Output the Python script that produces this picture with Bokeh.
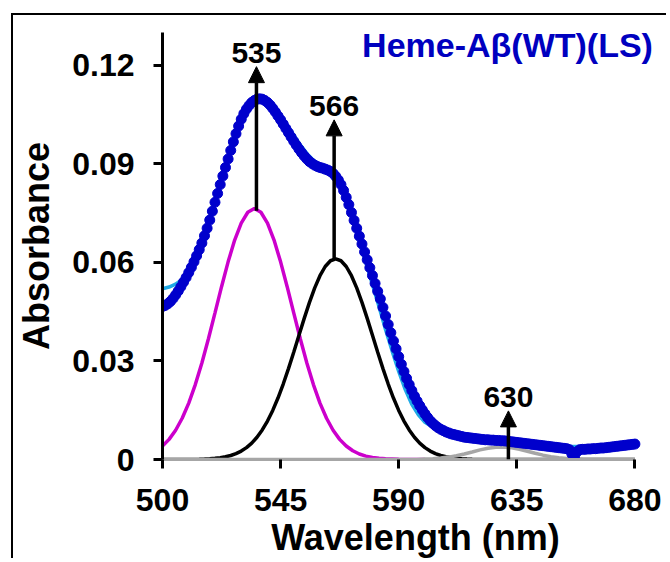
from bokeh.plotting import figure
from bokeh.models import (Range1d, FixedTicker, NumeralTickFormatter, Arrow,
                          NormalHead, Label, ColumnDataSource)
from bokeh.embed import file_html
from bokeh.resources import INLINE
from bokeh.core.properties import value

# ---------------- data ----------------
x_ticks = [500, 545, 590, 635, 680]
y_ticks = [0, 0.03, 0.06, 0.09, 0.12]

# experimental spectrum (dark blue dots), 1 nm steps 500..680
exp_wl = list(range(500, 681))
exp_abs = [
    0.0466, 0.0469, 0.0474, 0.0481, 0.0490, 0.0501, 0.0513, 0.0526, 0.0540, 0.0554,
    0.0569, 0.0585, 0.0602, 0.0620, 0.0639, 0.0659, 0.0681, 0.0704, 0.0729, 0.0756,
    0.0783, 0.0810, 0.0837, 0.0863, 0.0889, 0.0915, 0.0941, 0.0967, 0.0992, 0.1015,
    0.1036, 0.1053, 0.1067, 0.1078, 0.1087, 0.1093, 0.1097, 0.1098, 0.1097, 0.1093,
    0.1087, 0.1079, 0.1069, 0.1058, 0.1046, 0.1034, 0.1021, 0.1008, 0.0995, 0.0982,
    0.0969, 0.0957, 0.0945, 0.0934, 0.0924, 0.0915, 0.0907, 0.0901, 0.0896, 0.0892,
    0.0889, 0.0887, 0.0884, 0.0881, 0.0877, 0.0871, 0.0862, 0.0851, 0.0837, 0.0819,
    0.0798, 0.0776, 0.0752, 0.0728, 0.0704, 0.0680, 0.0656, 0.0632, 0.0608, 0.0584,
    0.0560, 0.0536, 0.0512, 0.0489, 0.0463, 0.0437, 0.0411, 0.0386, 0.0361, 0.0337,
    0.0313, 0.0290, 0.0268, 0.0247, 0.0228, 0.0210, 0.0193, 0.0178, 0.0164, 0.0151,
    0.0139, 0.0128, 0.0118, 0.0110, 0.0103, 0.0097, 0.0092, 0.0088, 0.0084, 0.0081,
    0.0078, 0.0076, 0.0074, 0.0072, 0.0070, 0.0068, 0.0067, 0.0066, 0.0065, 0.0064,
    0.0063, 0.0062, 0.0061, 0.0060, 0.0060, 0.0059, 0.0059, 0.0058, 0.0058, 0.0057,
    0.0057, 0.0056, 0.0055, 0.0054, 0.0053, 0.0052, 0.0051, 0.0050, 0.0049, 0.0048,
    0.0047, 0.0046, 0.0045, 0.0044, 0.0043, 0.0042, 0.0041, 0.0040, 0.0039, 0.0038,
    0.0037, 0.0036, 0.0035, 0.0034, 0.0033, 0.0030, 0.0016, 0.0009, 0.0024, 0.0030,
    0.0031, 0.0031, 0.0032, 0.0032, 0.0033, 0.0033, 0.0034, 0.0035, 0.0035, 0.0036,
    0.0037, 0.0038, 0.0039, 0.0040, 0.0041, 0.0042, 0.0043, 0.0044, 0.0045, 0.0046,
    0.0047,
]

# fitted sum (light blue line)
fit_wl = [500, 502.5, 505, 507.5, 510, 512.5, 515, 517.5, 520, 522.5, 525, 527.5,
          530, 532.5, 535, 537.5, 540, 542.5, 545, 547.5, 550, 552.5, 555, 557.5,
          560, 562.5, 565, 567.5, 570, 572.5, 575, 577.5, 580, 582.5, 585, 587.5,
          590, 592.5, 595, 597.5, 600, 605, 610, 615, 620, 625, 630, 635, 640, 645,
          650, 655, 660, 665, 670, 675, 680]
fit_abs = [0.0520, 0.0525, 0.0534, 0.0548, 0.0570, 0.0609, 0.0663, 0.0722, 0.0790,
           0.0858, 0.0926, 0.0990, 0.1043, 0.1080, 0.1101, 0.1106, 0.1097, 0.1075,
           0.1048, 0.1018, 0.0987, 0.0958, 0.0932, 0.0911, 0.0896, 0.0884, 0.0868,
           0.0840, 0.0790, 0.0730, 0.0665, 0.0600, 0.0532, 0.0465, 0.0395, 0.0330,
           0.0268, 0.0213, 0.0168, 0.0136, 0.0113, 0.0088, 0.0076, 0.0070, 0.0067,
           0.0065, 0.0063, 0.0059, 0.0054, 0.0048, 0.0043, 0.0040, 0.0039, 0.0040,
           0.0043, 0.0047, 0.0052]

# component band at 535 nm (magenta)
b535_wl = [500, 502.5, 505, 507.5, 510, 512.5, 515, 517.5, 520, 522.5, 525, 527.5,
           530, 532.5, 535, 537.5, 540, 542.5, 545, 547.5, 550, 552.5, 555, 557.5,
           560, 562.5, 565, 567.5, 570, 572.5, 575, 577.5, 580, 582.5, 585, 590, 600]
b535_abs = [0.0041, 0.00613, 0.00891, 0.01255, 0.01718, 0.02281, 0.0294, 0.03677,
            0.04465, 0.05261, 0.06017, 0.0668, 0.07197, 0.07527, 0.0764, 0.07527,
            0.07197, 0.0668, 0.06017, 0.05261, 0.04465, 0.03677, 0.0294, 0.02281,
            0.01718, 0.01255, 0.00891, 0.00613, 0.0041, 0.00266, 0.00167, 0.00102,
            0.00061, 0.00035, 0.0002, 0.00005, 0.0]

# component band at 566 nm (black)
b566_wl = [500, 510, 514, 516, 518, 520, 522, 524, 526, 528, 530, 532, 534, 536, 538,
           540, 542, 544, 546, 548, 550, 552, 554, 556, 558, 560, 562, 564, 566, 568,
           570, 572, 574, 576, 578, 580, 582, 584, 586, 588, 590, 592, 594, 596, 598,
           600, 602, 604, 606, 608, 610, 612, 614, 616, 618, 622, 632, 680]
b566_abs = [0.0, 0.00003, 0.00008, 0.00014, 0.00022, 0.00035, 0.00054, 0.00082,
            0.00122, 0.00179, 0.00257, 0.00362, 0.005, 0.00677, 0.00899, 0.0117,
            0.01494, 0.01871, 0.02298, 0.02767, 0.03268, 0.03784, 0.04297, 0.04785,
            0.05225, 0.05595, 0.05876, 0.06051, 0.0611, 0.06051, 0.05876, 0.05595,
            0.05225, 0.04785, 0.04297, 0.03784, 0.03268, 0.02767, 0.02298, 0.01871,
            0.01494, 0.0117, 0.00899, 0.00677, 0.005, 0.00362, 0.00257, 0.00179,
            0.00122, 0.00082, 0.00054, 0.00035, 0.00022, 0.00014, 0.00008, 0.00003,
            0.0, 0.0]

# component band at 630 nm (grey)
b630_wl = [500, 597, 600, 603, 606, 609, 612, 615, 618, 621, 624, 627, 630, 633, 636,
           639, 642, 645, 648, 651, 654, 657, 660, 663, 680]
b630_abs = [0.0, 0.0, 0.00012, 0.00023, 0.00043, 0.00073, 0.00115, 0.00169, 0.0023,
            0.00292, 0.00343, 0.00374, 0.00378, 0.00356, 0.0031, 0.00251, 0.00189,
            0.00132, 0.00085, 0.00051, 0.00029, 0.00015, 0.00007, 0.0, 0.0]

# peak markers
peak_labels = ["535", "566", "630"]
peak_x = [535.8, 565.4, 631.8]
peak_base = [0.0757, 0.0610, 0.0]
peak_tip = [0.1196, 0.1034, 0.0148]

title_text = "Heme-A\u03b2(WT)(LS)"

# ---------------- figure ----------------
FONT = "Liberation Sans"

# frame spans from the y axis to the right edge; the x axis itself is bounded 500..680
p = figure(width=655, height=545, x_range=Range1d(500, 692.8), y_range=Range1d(0, 0.13),
           output_backend="svg", toolbar_location=None,
           min_border_left=149, min_border_right=0, min_border_top=17,
           min_border_bottom=98)
p.margin = (13, 0, 0, 11)
p.styles = {"border-top": "2px solid black", "border-left": "2px solid black"}
p.outline_line_color = None
p.xgrid.visible = False
p.ygrid.visible = False
p.background_fill_color = "white"
p.border_fill_color = "white"

for ax in (p.xaxis[0], p.yaxis[0]):
    ax.major_label_text_font = FONT
    ax.major_label_text_font_style = "bold"
    ax.major_label_text_font_size = "32px"
    ax.major_label_text_color = "black"
    ax.axis_label_text_font = FONT
    ax.axis_label_text_font_style = "bold"
    ax.axis_label_text_font_size = "36px"
    ax.axis_label_text_color = "black"
    ax.major_tick_line_width = 3
    ax.major_tick_line_color = "black"
    ax.major_tick_out = 9
    ax.major_tick_in = 0
    ax.minor_tick_line_color = None
    ax.axis_line_width = 3

p.xaxis.bounds = (500, 680)
p.xaxis.ticker = FixedTicker(ticks=x_ticks)
p.yaxis.ticker = FixedTicker(ticks=y_ticks)
p.yaxis.formatter = NumeralTickFormatter(format="0.[00]")
p.xaxis.axis_label = "Wavelength (nm)"
p.yaxis.axis_label = "Absorbance"
p.xaxis.axis_line_color = "#A6A6A6"
p.yaxis.axis_line_color = "black"
p.xaxis.major_label_standoff = 20
p.yaxis.major_label_standoff = 19
p.xaxis.axis_label_standoff = 3
p.yaxis.axis_label_standoff = 12

p.line(b535_wl, b535_abs, line_color="#CC00CC", line_width=3.5)
p.line(b566_wl, b566_abs, line_color="black", line_width=3.5)
p.line(b630_wl, b630_abs, line_color="#A6A6A6", line_width=3.5)
p.line(fit_wl, fit_abs, line_color="#1FA9E6", line_width=3.5)
p.scatter(exp_wl, exp_abs, size=10, fill_color="#0000CC", line_color="#0000CC")

for xp, yb, yt in zip(peak_x, peak_base, peak_tip):
    p.add_layout(Arrow(end=NormalHead(size=16, fill_color="black", line_color="black",
                                      line_width=1),
                       x_start=xp, y_start=yb, x_end=xp, y_end=yt,
                       line_color="black", line_width=3.5))

src = ColumnDataSource(dict(x=peak_x, y=peak_tip, t=peak_labels))
p.text(x="x", y="y", text="t", source=src, text_align="center",
       text_baseline="alphabetic", y_offset=-14, text_font=value(FONT),
       text_font_style="bold", text_font_size="30px", text_color="black")

p.add_layout(Label(x=680, y=0.1261, x_offset=18, text=title_text, text_align="right",
                   text_baseline="alphabetic", text_font=FONT, text_font_style="bold",
                   text_font_size="34px", text_color="#0000BF"))

open("out.html", "w").write(file_html(p, INLINE))
